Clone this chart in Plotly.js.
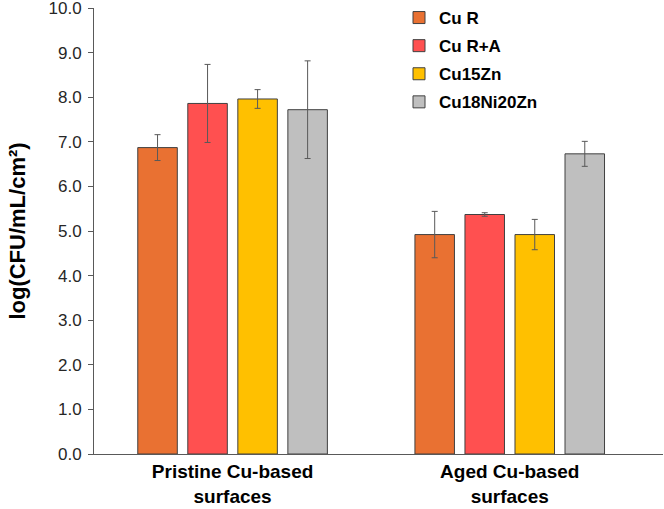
<!DOCTYPE html>
<html>
<head>
<meta charset="utf-8">
<script src="https://cdn.plot.ly/plotly-3.0.1.min.js"></script>
<style>html,body{margin:0;padding:0;background:#fff;}</style>
</head>
<body>
<div id="chart" style="width:664px;height:509px;"></div>
<script>
const categories = ["Pristine Cu-based<br>surfaces", "Aged Cu-based<br>surfaces"];
const seriesNames = ["Cu R", "Cu R+A", "Cu15Zn", "Cu18Ni20Zn"];
const cuR = [6.87, 4.92];
const cuRA = [7.86, 5.37];
const cu15Zn = [7.96, 4.92];
const cu18Ni20Zn = [7.72, 6.73];
const errCuR = [0.29, 0.52];
const errCuRA = [0.875, 0.04];
const errCu15Zn = [0.21, 0.34];
const errCu18Ni20Zn = [1.095, 0.28];
const colors = ["#E97132", "#FF5050", "#FFC000", "#BFBFBF"];
const yTicks = [0,1,2,3,4,5,6,7,8,9,10];

const values = [cuR, cuRA, cu15Zn, cu18Ni20Zn];
const errs = [errCuR, errCuRA, errCu15Zn, errCu18Ni20Zn];

const traces = seriesNames.map((name, i) => ({
  type: 'bar',
  name: name,
  legendgroup: 'g' + i,
  x: categories,
  y: values[i],
  marker: {color: colors[i], line: {color: '#404040', width: 1}},
  error_y: {type: 'data', array: errs[i], visible: true, color: '#595959', thickness: 1, width: 3}
}));

const layout = {
  width: 664, height: 509,
  margin: {l: 94, r: 1, t: 7, b: 55},
  paper_bgcolor: '#fff', plot_bgcolor: '#fff',
  barmode: 'group',
  bargap: 0.278,
  bargroupgap: 0.21,
  font: {family: 'Arial, "Liberation Sans", sans-serif', color: '#262626'},
  showlegend: true,
  legend: {
    x: (399 - 94) / 569, xanchor: 'left',
    y: 1.016, yanchor: 'top',
    font: {size: 17, weight: 'bold', color: '#000'},
    tracegroupgap: 3,
    traceorder: 'grouped',
    bgcolor: 'rgba(0,0,0,0)'
  },
  xaxis: {
    type: 'category',
    range: [-0.5, 1.553],
    showline: true, linecolor: '#595959', linewidth: 1,
    ticks: '', showgrid: false, zeroline: false,
    tickfont: {size: 19, weight: 'bold', color: '#000'},
    ticklabelstandoff: 0
  },
  yaxis: {
    range: [0, 10],
    tickvals: yTicks,
    tickformat: '.1f',
    showline: true, linecolor: '#595959', linewidth: 1,
    ticks: 'outside', ticklen: 5, tickcolor: '#595959',
    showgrid: false, zeroline: false,
    ticklabeloverflow: 'allow',
    ticklabelstandoff: 3,
    tickfont: {size: 17, color: '#262626'},
    title: {text: 'log(CFU/mL/cm²)', font: {size: 22, weight: 'bold', color: '#000'}, standoff: 16}
  }
};

Plotly.newPlot('chart', traces, layout, {displayModeBar: false, staticPlot: true});
</script>
</body>
</html>
